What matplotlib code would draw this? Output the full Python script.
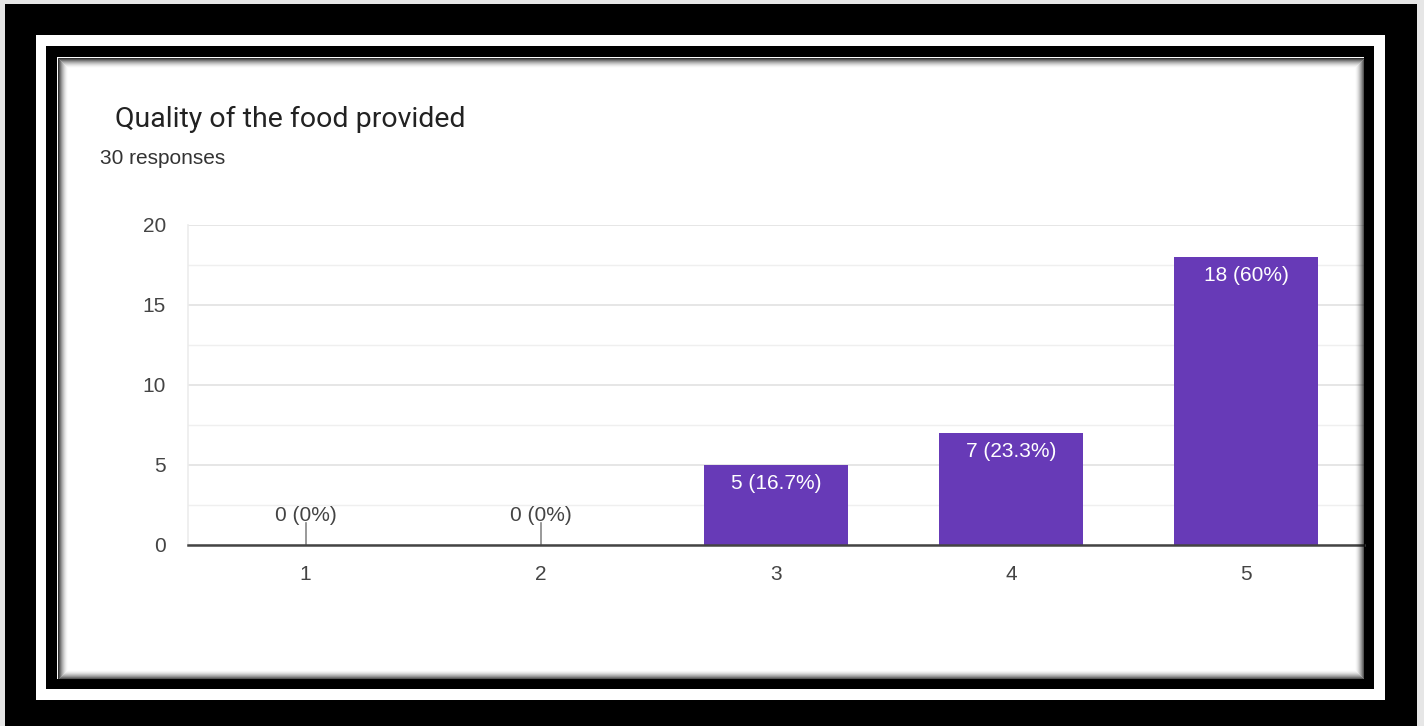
import matplotlib
matplotlib.use("Agg")
import matplotlib.pyplot as plt
from matplotlib.patches import Rectangle
import numpy as np

plt.rcParams['font.family'] = ['Liberation Sans', 'DejaVu Sans']

categories = ["1", "2", "3", "4", "5"]
counts = [0, 0, 5, 7, 18]
percents = ["0%", "0%", "16.7%", "23.3%", "60%"]
title = "Quality of the food provided"
subtitle = "30 responses"
yticks = [0, 5, 10, 15, 20]

W, H = 1424, 726
fig = plt.figure(figsize=(W / 100, H / 100), dpi=100)
fig.patch.set_facecolor("white")

# Decorative frame (pixel coordinates)
bg = fig.add_axes([0, 0, 1, 1], zorder=0)
bg.set_xlim(0, W)
bg.set_ylim(H, 0)
bg.axis("off")

def rect(axx, x0, y0, x1, y1, color, **kw):
    axx.add_patch(Rectangle((x0, y0), x1 - x0, y1 - y0, facecolor=color,
                            edgecolor="none", **kw))

rect(bg, 0, 0, W, H, "#e6e6e6")
rect(bg, 5, 4, 1417, H + 2, "black")
rect(bg, 36, 35, 1385, 700, "white")
rect(bg, 46, 46, 1374, 689, "black")
rect(bg, 57, 57, 1364, 679, "white")

# Chart axes
left, right = 188 / W, 1364 / W
bottom, top = 1 - 545 / H, 1 - 225 / H
ax = fig.add_axes([left, bottom, right - left, top - bottom], zorder=2)
ax.patch.set_alpha(0)

x = np.arange(1, len(categories) + 1)
bar_color = "#673ab7"
ax.bar(x, counts, width=0.613, color=bar_color, zorder=3)

ax.set_xlim(0.5, len(categories) + 0.5)
ax.set_ylim(0, 20)
ax.set_yticks(yticks)
ax.set_yticklabels([str(v) for v in yticks])
ax.set_yticks(np.arange(2.5, 20, 5), minor=True)
ax.set_xticks(x)
ax.set_xticklabels(categories)
ax.tick_params(axis="both", length=0, labelsize=15, labelcolor="#444444")
ax.tick_params(axis="y", pad=16)
ax.tick_params(axis="x", pad=14.5)
ax.tick_params(axis="y", which="minor", length=0)
ax.grid(axis="y", which="major", color="#e4e4e4", linewidth=1.3, zorder=0)
ax.grid(axis="y", which="minor", color="#efefef", linewidth=1.0, zorder=0)
for s in ["top", "right"]:
    ax.spines[s].set_visible(False)
ax.spines["left"].set_color("#ececec")
ax.spines["left"].set_linewidth(1.2)
ax.spines["bottom"].set_color("#444444")
ax.spines["bottom"].set_linewidth(1.8)
ax.spines["bottom"].set_zorder(4)

for xi, c, p in zip(x, counts, percents):
    label = f"{c} ({p})"
    if c == 0:
        ax.plot([xi, xi], [0, 1.4], color="#888888", linewidth=1.2, zorder=4)
        ax.text(xi, 1.85, label, ha="center", va="center", fontsize=15,
                color="#444444", zorder=5)
    else:
        ax.annotate(label, (xi, c), xytext=(0, -13), textcoords="offset points",
                    ha="center", va="center", fontsize=15, color="white",
                    zorder=5)

fig.text(115 / W, 1 - 119 / H, title, ha="left", va="center", fontsize=20.5,
         color="#222222", family=["Roboto", "DejaVu Sans"], zorder=3)
fig.text(100 / W, 1 - 158 / H, subtitle, ha="left", va="center", fontsize=15,
         color="#333333", zorder=3)

# Soft inner shadow of the white panel, drawn over the chart
ov = fig.add_axes([0, 0, 1, 1], zorder=5)
ov.set_xlim(0, W)
ov.set_ylim(H, 0)
ov.axis("off")
ov.patch.set_alpha(0)
n = 10
for i in range(n):
    a = 0.8 * (1 - i / n) ** 1.8
    ov.add_patch(Rectangle((57 + i + 0.5, 57 + i + 0.5), (1364 - 57) - 2 * i - 1,
                           (679 - 57) - 2 * i - 1, facecolor="none",
                           edgecolor="black", linewidth=0.72, alpha=a))

fig.savefig("out.png", dpi=100)
